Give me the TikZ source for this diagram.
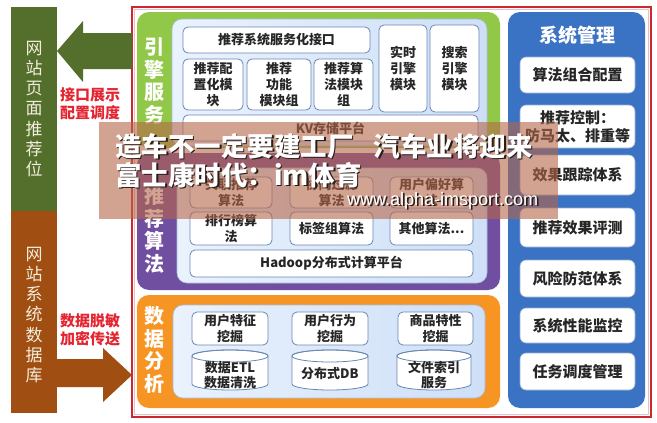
\documentclass[tikz,border=0pt]{standalone}
\usepackage{fontspec}
\setmainfont{Noto Sans CJK SC}
\newfontfamily\urlfont{Liberation Sans}
\newcommand\myfs[2]{\fontsize{#1pt}{#2pt}\selectfont}
\definecolor{webgreen}{RGB}{84,110,44}
\definecolor{webbrown}{RGB}{160,78,18}
\definecolor{engg}{RGB}{146,200,72}
\definecolor{algp}{RGB}{112,78,160}
\definecolor{datao}{RGB}{246,148,36}
\definecolor{sysb}{RGB}{58,114,196}
\definecolor{innerl}{RGB}{234,242,253}
\definecolor{innerr}{RGB}{206,223,247}
\definecolor{innerd}{RGB}{165,190,228}
\definecolor{boxd}{RGB}{105,135,180}
\definecolor{redt}{RGB}{228,36,48}
\definecolor{framec}{RGB}{205,40,50}
\definecolor{ovl}{RGB}{182,102,72}
\definecolor{ovdark}{RGB}{40,30,26}
\definecolor{barfont}{RGB}{242,238,220}
\tikzset{
  panel/.style={rounded corners=12pt, inner sep=0pt},
  innerpanel/.style={rounded corners=10pt, inner sep=0pt, draw=innerd, line width=0.6pt, left color=innerl, right color=innerr},
  wbox/.style={draw=boxd, fill=white, rounded corners=5pt, line width=0.8pt, align=center, inner sep=0pt, font=\bfseries\myfs{13}{16}, text=black!85},
  sbox/.style={draw=boxd!70, fill=white, rounded corners=6pt, line width=0.6pt, align=center, inner sep=0pt, font=\bfseries\myfs{15}{18}, text=black!85, minimum width=115pt},
  plabel/.style={align=center, inner sep=0pt, text=white, font=\bfseries\myfs{20}{22.5}},
  barlabel/.style={align=center, inner sep=0pt, text=barfont, font=\myfs{17}{20.3}},
  redlabel/.style={align=center, inner sep=0pt, text=redt, font=\bfseries\myfs{15}{18}},
  cyltext/.style={align=center, inner sep=0pt, font=\bfseries\myfs{13}{15}, text=black!85},
}
\newcommand\cyl[4]{% x1 x2 top bottom
  \filldraw[fill=white, draw=boxd, line width=0.8pt] (#1,#3+6) -- (#1,#4-6)
    arc[start angle=180, end angle=0, x radius={(#2-#1)/2}, y radius=6] -- (#2,#3+6)
    arc[start angle=0, end angle=-180, x radius={(#2-#1)/2}, y radius=6] -- cycle;
  \draw[boxd, line width=0.8pt] ({(#1+#2)/2},#3+6) ellipse[x radius={(#2-#1)/2}, y radius=6];
}
\newcommand\ovtext[4]{% name, x, y, font+text
  \node[anchor=base west, inner sep=0pt, text=ovdark] (#1s) at ([shift={(1.6,1.6)}]#2,#3) {#4};
  \node[anchor=base west, inner sep=0pt, text=white] (#1) at (#2,#3) {#4};
}
\begin{document}
\begin{tikzpicture}[x=1pt,y=-1pt]
\useasboundingbox (0,0) rectangle (657,423);
\fill[white] (0,0) rectangle (657,423);

% left bars
\node[fill=webgreen, minimum width=46pt, minimum height=204pt, inner sep=0pt] (webpage) at (34,109) {};
\node[barlabel] (webpagetxt) at (webpage.center) {网\\站\\页\\面\\推\\荐\\位};
\node[fill=webbrown, minimum width=46pt, minimum height=202pt, inner sep=0pt] (webdb) at (34,312) {};
\node[barlabel] (webdbtxt) at (34,315) {网\\站\\系\\统\\数\\据\\库};

% outer frame
\node[draw=framec, line width=1.4pt, minimum width=519pt, minimum height=410pt, inner sep=0pt] (frame) at (391.5,212) {};
\draw[framec!30, line width=0.8pt] (134.5,9.5) rectangle (648.5,414.5);

% block arrows
\fill[webgreen] (132,33) -- (83,33) -- (83,21) -- (57,51) -- (83,82) -- (83,69) -- (132,69) -- cycle;
\fill[webbrown] (57,359) -- (103,359) -- (103,348) -- (132,375) -- (103,402) -- (103,387) -- (57,387) -- cycle;
\node[redlabel] (ifacelbl) at (90,104) {接口展示\\配置调度};
\node[redlabel] (datalbl) at (90,330) {数据脱敏\\加密传送};

% panels
\node[panel, fill=engg, minimum width=363pt, minimum height=136pt] (engine) at (318.5,80) {};
\node[panel, fill=algp, minimum width=363pt, minimum height=137pt] (algo) at (318.5,221.5) {};
\node[panel, fill=datao, minimum width=363pt, minimum height=113pt] (data) at (318.5,351.5) {};
\node[panel, fill=sysb, minimum width=137pt, minimum height=396pt] (sys) at (576.5,210) {};

\node[innerpanel, minimum width=315pt, minimum height=127pt] (engin) at (329.5,82.5) {};
\node[innerpanel, minimum width=310pt, minimum height=115pt] (algin) at (332,225.5) {};
\node[innerpanel, minimum width=312pt, minimum height=93pt] (datin) at (329,351.5) {};

\node[plabel] (englbl) at (154,81) {引\\擎\\服\\务};
\node[plabel] (alglbl) at (154,230) {推\\荐\\算\\法};
\node[plabel] (datlbl) at (154,350) {数\\据\\分\\析};
\node[inner sep=0pt, text=white, font=\bfseries\myfs{19}{22}] (systitle) at (577,35) {系统管理};

% engine boxes
\node[wbox, minimum width=187pt, minimum height=26pt] (api) at (276.5,40) {推荐系统服务化接口};
\node[wbox, minimum width=60pt, minimum height=51pt] (cfg) at (213,84.5) {推荐配\\置化模\\块};
\node[wbox, minimum width=64pt, minimum height=51pt] (func) at (279,84.5) {推荐\\功能\\模块组};
\node[wbox, minimum width=59pt, minimum height=51pt] (algm) at (343.5,84.5) {推荐算\\法模块\\组};
\node[wbox, minimum width=48pt, minimum height=87pt] (rt) at (403,68.5) {实时\\引擎\\模块};
\node[wbox, minimum width=49pt, minimum height=87pt] (search) at (454.5,68.5) {搜索\\引擎\\模块};
\node[wbox, minimum width=295pt, minimum height=26pt] (kv) at (330.5,128) {KV存储平台};

% algorithm boxes
\node[wbox, minimum width=82pt, minimum height=31pt] (assoc) at (231,192.5) {关联推荐\\算法};
\node[wbox, minimum width=83pt, minimum height=31pt] (collab) at (331.5,192.5) {协同过滤\\算法};
\node[wbox, minimum width=83pt, minimum height=31pt] (pref) at (431.5,192.5) {用户偏好算\\法};
\node[wbox, minimum width=82pt, minimum height=33pt] (rank) at (231,228.5) {排行榜算\\法};
\node[wbox, minimum width=83pt, minimum height=33pt] (tag) at (331.5,228.5) {标签组算法};
\node[wbox, minimum width=83pt, minimum height=33pt] (other) at (431.5,228.5) {其他算法...};
\node[wbox, minimum width=283pt, minimum height=27pt] (hadoop) at (331.5,263.5) {Hadoop分布式计算平台};

% data boxes
\node[wbox, minimum width=76pt, minimum height=33pt] (ufeat) at (230,328.5) {用户特征\\挖掘};
\node[wbox, minimum width=76pt, minimum height=33pt] (ubeh) at (330,328.5) {用户行为\\挖掘};
\node[wbox, minimum width=75pt, minimum height=33pt] (pfeat) at (435.5,328.5) {商品特性\\挖掘};
\cyl{192}{268}{350}{390}
\cyl{292}{368}{350}{390}
\cyl{397}{471}{350}{390}
\node[cyltext] (etl) at (230,375) {数据ETL\\数据清洗};
\node[cyltext] (ddb) at (330,374) {分布式DB};
\node[cyltext] (fidx) at (434,375) {文件索引\\服务};

% system boxes
\node[sbox, minimum height=36pt] (s1) at (577.5,75) {算法组合配置};
\node[sbox, minimum height=43pt] (s2) at (577.5,126.5) {推荐控制：\\防马太、排重等};
\node[sbox, minimum height=40pt] (s3) at (577.5,175) {效果跟踪体系};
\node[sbox, minimum height=39pt] (s4) at (577.5,227.5) {推荐效果评测};
\node[sbox, minimum height=37pt] (s5) at (577.5,278.5) {风险防范体系};
\node[sbox, minimum height=35pt] (s6) at (577.5,325.5) {系统性能监控};
\node[sbox, minimum height=37pt] (s7) at (577.5,371.5) {任务调度管理};

% overlay band
\fill[ovl, opacity=0.6] (99,122) rectangle (558,219);
\ovtext{ov1}{115}{156}{\bfseries\myfs{26.5}{30}造车不一定要建工厂\hspace{20pt}汽车业将迎来}
\ovtext{ov2}{115}{185}{\bfseries\myfs{26.5}{30}富士康时代：im体育}
\ovtext{ov3}{347}{205}{\urlfont\myfs{18}{20}www.alpha-imsport.com}
\end{tikzpicture}
\end{document}
